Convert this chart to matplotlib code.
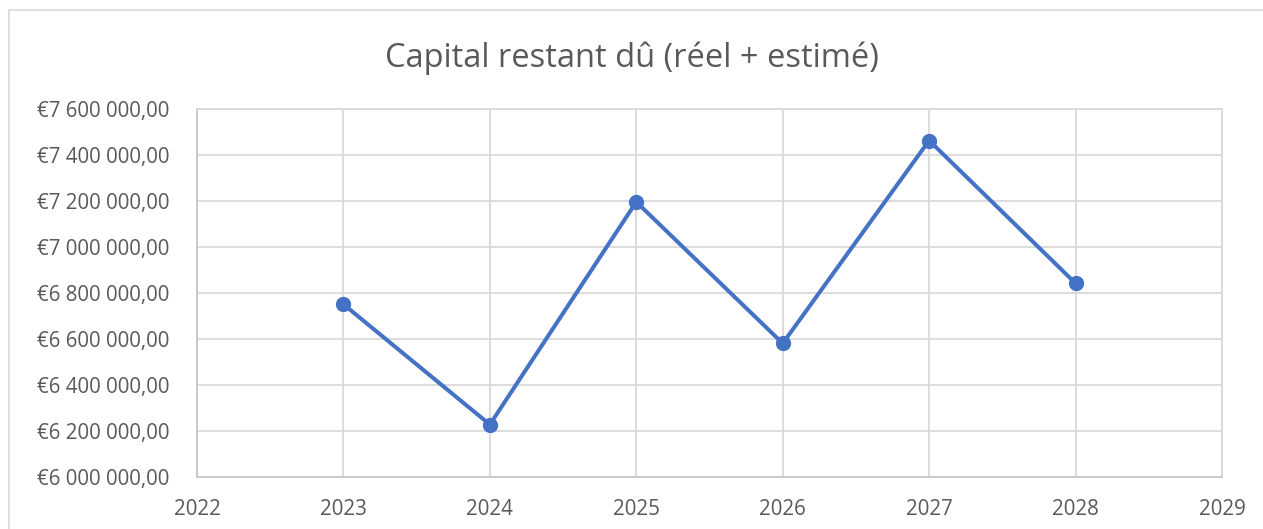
import matplotlib
matplotlib.use("Agg")
import matplotlib.pyplot as plt
from matplotlib.patches import FancyBboxPatch
from matplotlib.ticker import FuncFormatter, MultipleLocator

years = [2023, 2024, 2025, 2026, 2027, 2028]
capital = [6751000, 6228000, 7196000, 6581000, 7463000, 6842000]
title = "Capital restant dû (réel + estimé)"

plt.rcParams['font.family'] = ['Open Sans', 'DejaVu Sans']

W, H = 1263, 529
fig = plt.figure(figsize=(W / 100, H / 100), dpi=100)
fig.patch.set_facecolor('white')

# chart border
border = FancyBboxPatch((9 / W, -0.05), (W + 20) / W, 1.05 - 10 / H,
                        boxstyle="square,pad=0", transform=fig.transFigure,
                        fill=False, edgecolor='#d9d9d9', linewidth=1.2)
fig.patches.append(border)

left, right, top, bottom = 197, 1222, 109, 477
ax = fig.add_axes([left / W, 1 - bottom / H, (right - left) / W, (bottom - top) / H])

ax.plot(years, capital, color='#4472C4', linewidth=2.9, marker='o',
        markersize=10, markerfacecolor='#4472C4', markeredgecolor='#4472C4',
        solid_capstyle='round', zorder=3)

ax.set_xlim(2022, 2029)
ax.set_ylim(6000000, 7600000)
ax.xaxis.set_major_locator(MultipleLocator(1))
ax.yaxis.set_major_locator(MultipleLocator(200000))

def fmt_eur(v, pos):
    s = f"{int(round(v)):,}".replace(",", " ")
    return "€" + s + ",00"

ax.yaxis.set_major_formatter(FuncFormatter(fmt_eur))
ax.xaxis.set_major_formatter(FuncFormatter(lambda v, p: f"{int(round(v))}"))

ax.grid(True, color='#d9d9d9', linewidth=1.3, zorder=0)
ax.set_axisbelow(True)
for s in ['top', 'right']:
    ax.spines[s].set_color('#d9d9d9')
    ax.spines[s].set_linewidth(1.3)
for s in ['left', 'bottom']:
    ax.spines[s].set_color('#c8c8c8')
    ax.spines[s].set_linewidth(1.3)

ax.tick_params(axis='both', length=0, colors='#595959', labelsize=14.8)
ax.tick_params(axis='y', pad=20)
ax.tick_params(axis='x', pad=16)

fig.text(0.5, 1 - 58 / H, title, ha='center', va='center',
         fontsize=23.5, color='#595959')

fig.savefig('out.png', dpi=100, facecolor='white')
